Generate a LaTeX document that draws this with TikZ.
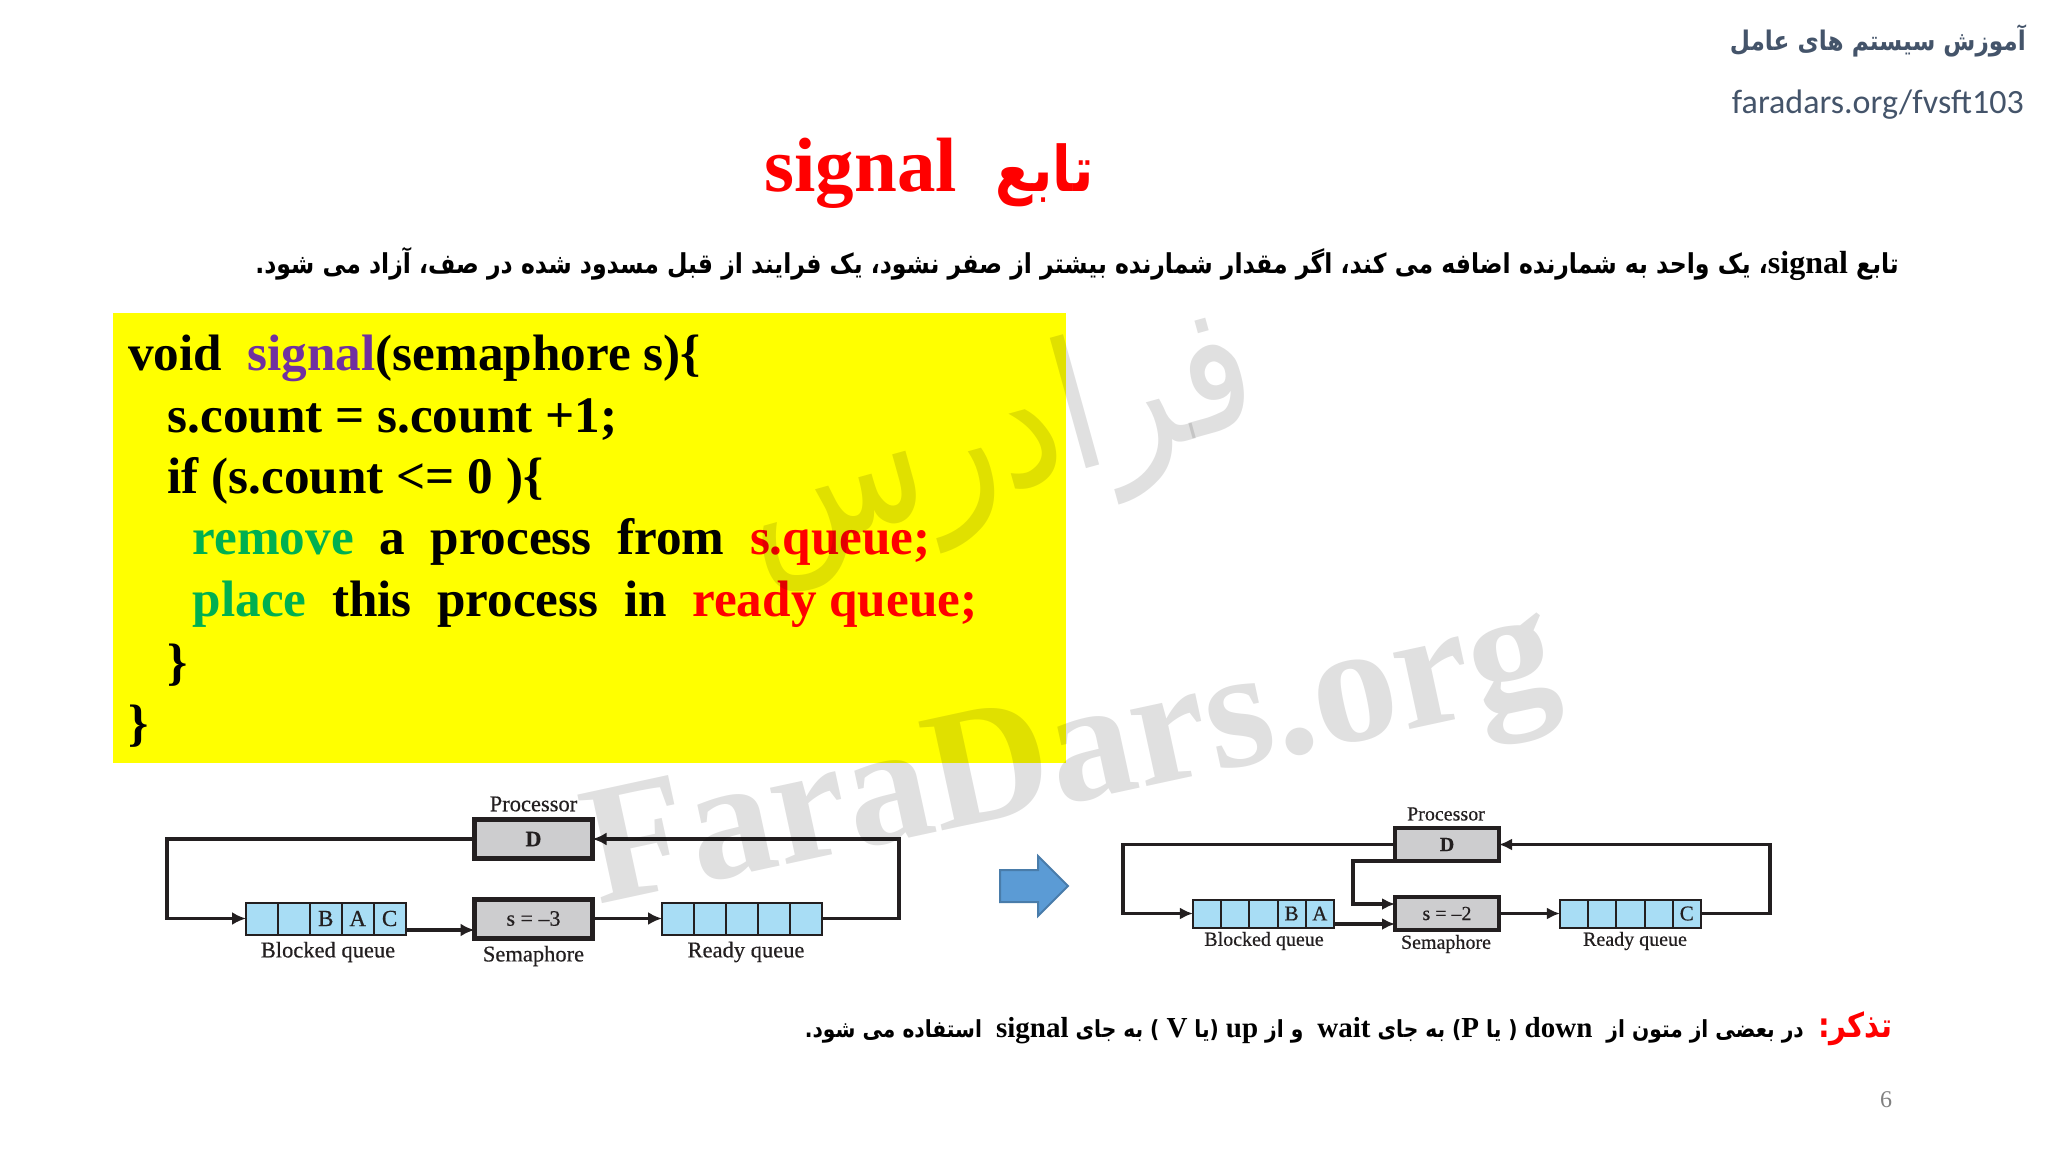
\documentclass[tikz,border=0pt]{standalone}
\usepackage{fontspec}
\usepackage{xcolor}
\usetikzlibrary{arrows.meta, positioning, shapes.arrows}
\setmainfont{Liberation Serif}
\newfontfamily\fafont[Script=Arabic, FakeStretch=0.86]{DejaVu Sans}
\newfontfamily\urlfont{Carlito}
\newfontfamily\labelfont[FakeBold=0.5]{Liberation Serif}
\TeXXeTstate=1
\newcommand{\lat}[1]{\beginL{\rmfamily\bfseries #1}\endL}
\newcommand{\sz}[1]{\fontsize{#1}{#1}\selectfont}
\definecolor{slidegray}{HTML}{44546A}
\definecolor{cellblue}{HTML}{A8DDF5}
\definecolor{boxgray}{HTML}{CDCDCF}
\definecolor{inkdark}{HTML}{231F20}
\definecolor{signalpurple}{HTML}{7030A0}
\definecolor{opgreen}{HTML}{00B050}
\definecolor{arrowblue}{HTML}{5B9BD5}
\definecolor{codeyellow}{HTML}{FFFF00}
\definecolor{titlered}{HTML}{FF0000}
\tikzset{
  codeline/.style={anchor=base west, inner sep=0pt, font=\sz{51.2}\bfseries},
  farsi/.style={inner sep=0pt, font=\fafont\bfseries},
  lcell/.style={draw=inkdark, line width=2pt, fill=cellblue, inner sep=0pt, outer sep=0pt,
    minimum width=31.9pt, minimum height=32pt, font=\labelfont\sz{23}, text=inkdark},
  rcell/.style={draw=inkdark, line width=2pt, fill=cellblue, inner sep=0pt, outer sep=0pt,
    minimum width=28.2pt, minimum height=28pt, font=\labelfont\sz{21}, text=inkdark},
  lbox/.style={draw=inkdark, line width=5pt, fill=boxgray, inner sep=0pt, outer sep=0pt,
    minimum width=118pt, minimum height=39pt, font=\labelfont\sz{22}, text=inkdark},
  rbox/.style={draw=inkdark, line width=4pt, fill=boxgray, inner sep=0pt, outer sep=0pt,
    minimum width=104pt, minimum height=33pt, font=\labelfont\sz{20}, text=inkdark},
  llabel/.style={inner sep=0pt, font=\labelfont\sz{22.5}, text=inkdark},
  rlabel/.style={inner sep=0pt, font=\labelfont\sz{20}, text=inkdark},
  lflow/.style={draw=inkdark, line width=3.5pt, -{Latex[length=14pt, width=13pt]}},
  rflow/.style={draw=inkdark, line width=3.2pt, -{Latex[length=13pt, width=12pt]}},
  watermark/.style={inner sep=0pt, text=black, text opacity=.12}
}
\begin{document}
\begin{tikzpicture}[x=1pt, y=-1pt]
\useasboundingbox (0,0) rectangle (2048,1152);
\node[inner sep=0pt, anchor=east, text=slidegray, font=\fafont\bfseries\sz{27}] (course) at (2026,41)
  {\beginR آموزش سیستم های عامل\endR};
\node[inner sep=0pt, anchor=base east, text=slidegray, font=\urlfont\sz{34}] (link) at (2024,113) {faradars.org/fvsft103};
\node[farsi, text=titlered, anchor=base, font=\sz{77}\bfseries] (title) at (929,191)
  {\beginR{\fafont\sz{63}تابع}\ \ \lat{signal}\endR};
\node[farsi, anchor=base east, font=\fafont\bfseries\sz{27.4}] (intro) at (1899,273)
  {\beginR تابع \lat{\sz{32}signal}، یک واحد به شمارنده اضافه می کند، اگر مقدار شمارنده بیشتر از صفر نشود، یک فرایند از قبل مسدود شده در صف، آزاد می شود.\endR};

\node[fill=codeyellow, inner sep=0pt, outer sep=0pt, minimum width=953.5pt, minimum height=450pt, anchor=north west] (codebox) at (112.5,313) {};
\node[codeline] (line1) at (128,370) {void\ \ {\color{signalpurple}signal}(semaphore s)\{};
\node[codeline] (line2) at (167.5,432) {s.count = s.count +1;};
\node[codeline] (line3) at (167.5,493) {if (s.count <= 0 )\{};
\node[codeline] (line4) at (192.5,554) {{\color{opgreen}remove}\ \ a\ \ process\ \ from\ \ {\color{titlered}s.queue;}};
\node[codeline] (line5) at (192.5,616) {{\color{opgreen}place}\ \ this\ \ process\ \ in\ \ {\color{titlered}ready queue;}};
\node[codeline] (line6) at (167.5,679) {\}};
\node[codeline] (line7) at (128,740) {\}};

\node[lbox] (lcpu) at (533.5,839) {\textbf{D}};
\node[lbox] (lsem) at (533.5,918.5) {s = –3};
\node[lcell] (lb1) at (262,918.5) {};
\node[lcell, right=0pt of lb1] (lb2) {};
\node[lcell, right=0pt of lb2] (lb3) {B};
\node[lcell, right=0pt of lb3] (lb4) {A};
\node[lcell, right=0pt of lb4] (lb5) {C};
\node[lcell] (lr1) at (678,918.5) {};
\node[lcell, right=0pt of lr1] (lr2) {};
\node[lcell, right=0pt of lr2] (lr3) {};
\node[lcell, right=0pt of lr3] (lr4) {};
\node[lcell, right=0pt of lr4] (lr5) {};
\node[llabel] (lcpulabel) at (533.5,804) {Processor};
\node[llabel] (lblocklabel) at (328,952) {Blocked queue};
\node[llabel] (lsemlabel) at (533.5,956) {Semaphore};
\node[llabel] (lreadylabel) at (746,952) {Ready queue};
\coordinate (ltl) at (167,839);
\coordinate (lbl) at (167,918.5);
\coordinate (ltr) at (899,839);
\coordinate (lbr) at (899,918.5);
\draw[lflow] (lcpu.west) -- (ltl) -- (lbl) -- (lb1.west);
\draw[lflow] (lr5.east) -- (lbr) -- (ltr) -- (lcpu.east);
\draw[lflow] ([yshift=-11.5pt]lb5.east) -- ([yshift=-11.5pt]lsem.west);
\draw[lflow] (lsem.east) -- (lr1.west);

\node[single arrow, draw=arrowblue!80!black, line width=2pt, fill=arrowblue, inner xsep=0pt, inner ysep=15pt, outer sep=0pt,
  minimum height=68pt, single arrow head extend=14pt, single arrow tip angle=90, anchor=center] (step) at (1026,886) {};

\node[rbox] (rcpu) at (1447,844.5) {\textbf{D}};
\node[rbox] (rsem) at (1447,913.5) {s = –2};
\node[rcell] (rb1) at (1207,913.5) {};
\node[rcell, right=0pt of rb1] (rb2) {};
\node[rcell, right=0pt of rb2] (rb3) {};
\node[rcell, right=0pt of rb3] (rb4) {B};
\node[rcell, right=0pt of rb4] (rb5) {A};
\node[rcell] (rr1) at (1574,913.5) {};
\node[rcell, right=0pt of rr1] (rr2) {};
\node[rcell, right=0pt of rr2] (rr3) {};
\node[rcell, right=0pt of rr3] (rr4) {};
\node[rcell, right=0pt of rr4] (rr5) {C};
\node[rlabel] (rcpulabel) at (1446,814) {Processor};
\node[rlabel] (rblocklabel) at (1264,941) {Blocked queue};
\node[rlabel] (rsemlabel) at (1446,944) {Semaphore};
\node[rlabel] (rreadylabel) at (1635,941) {Ready queue};
\coordinate (rtl) at (1123,844.5);
\coordinate (rbl) at (1123,913.5);
\coordinate (rtr) at (1770,844.5);
\coordinate (rbr) at (1770,913.5);
\coordinate (rmid1) at (1353,861);
\coordinate (rmid2) at (1353,904);
\draw[rflow] (rcpu.west) -- (rtl) -- (rbl) -- (rb1.west);
\draw[rflow] (rr5.east) -- (rbr) -- (rtr) -- (rcpu.east);
\draw[rflow] (rcpu.south west) -- (rmid1) -- (rmid2) -- ([yshift=9.5pt]rsem.west);
\draw[rflow] ([yshift=-10.5pt]rb5.east) -- ([yshift=-10.5pt]rsem.west);
\draw[rflow] (rsem.east) -- (rr1.west);

\node[farsi, anchor=base east, text=titlered, font=\fafont\bfseries\sz{34}] (notehead) at (1893,1037) {\beginR تذکر:\endR};
\node[farsi, anchor=base east, font=\fafont\bfseries\sz{23.5}] (note) at (1804,1037)
  {\beginR در بعضی از متون از\ \ \lat{\sz{29}down} ( یا \lat{\sz{29}P}) به جای \lat{\sz{29}wait}\ \ و از \lat{\sz{29}up} (یا \lat{\sz{29}V} ) به جای \lat{\sz{29}signal}\ \ استفاده می شود.\endR};
\node[inner sep=0pt, text=gray, font=\sz{24}] (pagenum) at (1886,1100) {6};

\node[watermark, anchor=base west, rotate=12.2, font=\sz{170}\bfseries] (wmlatin) at (598,905) {FaraDars.org};
\node[watermark, anchor=base, rotate=15.5, font=\fafont\sz{178}] (wmfarsi) at (1010,490) {\beginR فرادرس\endR};
\end{tikzpicture}
\end{document}
